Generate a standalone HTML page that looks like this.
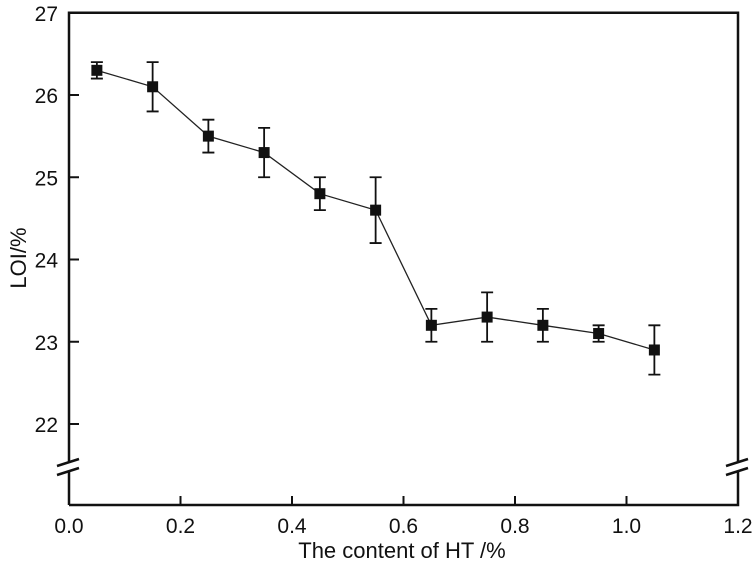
<!DOCTYPE html>
<html><head><meta charset="utf-8"><style>
body{margin:0;background:#fff}
svg text{font-family:"Liberation Sans",Arial,sans-serif;fill:#111}
</style></head><body>
<svg id="chart" width="756" height="576" xmlns="http://www.w3.org/2000/svg"></svg>
<script>
const xValues=[0.05,0.15,0.25,0.35,0.45,0.55,0.65,0.75,0.85,0.95,1.05];
const loiValues=[26.3,26.1,25.5,25.3,24.8,24.6,23.2,23.3,23.2,23.1,22.9];
const errValues=[0.1,0.3,0.2,0.3,0.2,0.4,0.2,0.3,0.2,0.1,0.3];
const xTicks=[0.0,0.2,0.4,0.6,0.8,1.0,1.2];
const yTicks=[22,23,24,25,26,27];
const L=69,R=738,T=12.75,B=505;
const xs=v=>L+(v-0)/1.2*(R-L);
const ys=v=>424-(v-22)*82.25;
const svg=document.getElementById('chart');
const NS='http://www.w3.org/2000/svg';
function mk(tag,attrs,parent){const e=document.createElementNS(NS,tag);for(const k in attrs)e.setAttribute(k,attrs[k]);(parent||svg).appendChild(e);return e;}
let e;
e=mk('path',{d:`M${L},${B} L${L},${T} L${R},${T} L${R},${B} L${L},${B}`,fill:'none',stroke:'#111','stroke-width':2.5});

[L,R].forEach((x,i)=>{
  mk('rect',{x:x-6,y:463,width:12,height:9,fill:'#fff'});
  e=mk('path',{d:`M${x-12},${466} L${x+10},${459} M${x-12},${475} L${x+10},${468}`,stroke:'#111','stroke-width':2.5,fill:'none'});
  
});
xTicks.forEach(v=>{
  const x=xs(v);
  mk('line',{x1:x,y1:B,x2:x,y2:B-9,stroke:'#111','stroke-width':2});
  e=mk('text',{x:x,y:533,'text-anchor':'middle','font-size':21});e.textContent=v.toFixed(1);
  
});
yTicks.forEach(v=>{
  const y=ys(v);
  if(v<27)mk('line',{x1:L,y1:y,x2:L+10,y2:y,stroke:'#111','stroke-width':2});
  e=mk('text',{x:58,y:y+8,'text-anchor':'end','font-size':21});e.textContent=v;
  
});
e=mk('text',{x:402,y:558,'text-anchor':'middle','font-size':22});e.textContent='The content of HT /%';

e=mk('text',{x:0,y:0,'text-anchor':'middle','font-size':22,transform:'translate(26,258) rotate(-90)'});e.textContent='LOI/%';

let d='';xValues.forEach((v,i)=>{d+=(i?'L':'M')+xs(v)+','+ys(loiValues[i]);});
e=mk('path',{d:d,fill:'none',stroke:'#222','stroke-width':1.3});

xValues.forEach((v,i)=>{
  const x=xs(v),y=ys(loiValues[i]),y1=ys(loiValues[i]+errValues[i]),y2=ys(loiValues[i]-errValues[i]);
  e=mk('path',{d:`M${x},${y1} L${x},${y2} M${x-6},${y1} L${x+6},${y1} M${x-6},${y2} L${x+6},${y2}`,stroke:'#111','stroke-width':1.8,fill:'none'});
  
  e=mk('rect',{x:x-5.5,y:y-5.5,width:11,height:11,fill:'#111'});
  
});
</script>
</body></html>
